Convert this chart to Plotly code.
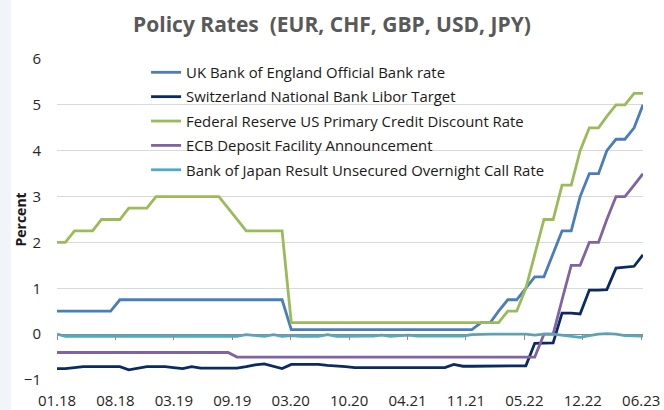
import pandas as pd
import plotly.graph_objects as go

# ---- data (monthly, month-end, Jan 2018 - Jun 2023) ----
start_month = "2018-01-31"
n_months = 66

uk_rate = [0.5]*7 + [0.75]*19 + [0.1]*21 + [0.25, 0.25, 0.5, 0.75, 0.75, 1.0, 1.25, 1.25, 1.75,
                                             2.25, 2.25, 3.0, 3.5, 3.5, 4.0, 4.25, 4.25, 4.5, 5.0]

swiss_rate = [-0.75, -0.75, -0.73, -0.71, -0.71, -0.71, -0.71, -0.71, -0.78, -0.74,
              -0.71, -0.71, -0.71, -0.73, -0.75, -0.71, -0.74, -0.74, -0.74, -0.74,
              -0.74, -0.71, -0.67, -0.65, -0.70, -0.75, -0.66, -0.66, -0.65, -0.66,
              -0.68, -0.69, -0.71, -0.73, -0.73, -0.73, -0.73, -0.73, -0.73, -0.73,
              -0.73, -0.73, -0.73, -0.73, -0.66, -0.70, -0.70, -0.70, -0.70, -0.70,
              -0.70, -0.70, -0.69, -0.20, -0.19, -0.19, 0.46, 0.46, 0.44, 0.96,
              0.96, 0.97, 1.44, 1.46, 1.48, 1.73]

fed_rate = [2.0, 2.0, 2.25, 2.25, 2.25, 2.5, 2.5, 2.5, 2.75, 2.75, 2.75, 3.0,
            3.0, 3.0, 3.0, 3.0, 3.0, 3.0, 3.0, 2.75, 2.5, 2.25, 2.25, 2.25, 2.25, 2.25,
            ] + [0.25]*24 + [0.5, 0.5, 1.0, 1.75, 2.5, 2.5, 3.25, 3.25, 4.0, 4.5,
                             4.5, 4.75, 5.0, 5.0, 5.25, 5.25]

ecb_rate = [-0.4]*20 + [-0.5]*34 + [0.0, 0.0, 0.75, 1.5, 1.5, 2.0, 2.0, 2.5, 3.0, 3.0, 3.25, 3.5]

japan_rate = [0.0, -0.05, -0.05, -0.05, -0.05, -0.05, -0.05, -0.05, -0.05, -0.05,
              -0.05, -0.05, -0.05, -0.05, -0.05, -0.05, -0.05, -0.05, -0.05, -0.05,
              -0.05, -0.01, -0.03, -0.05, -0.01, -0.05, -0.03, -0.05, -0.05, -0.05,
              -0.01, -0.05, -0.05, -0.04, -0.04, -0.04, -0.02, -0.05, -0.03, -0.02,
              -0.04, -0.04, -0.04, -0.04, -0.04, -0.04, -0.01, 0.0, 0.0, 0.0,
              0.0, 0.0, 0.0, -0.02, 0.0, 0.0, -0.02, -0.04, -0.07, -0.03,
              0.0, 0.01, 0.0, -0.03, -0.04, -0.04]

series_names = ["UK Bank of England Official Bank rate",
                "Switzerland National Bank Libor Target",
                "Federal Reserve US Primary Credit Discount Rate",
                "ECB Deposit Facility Announcement",
                "Bank of Japan Result Unsecured Overnight Call Rate"]
series_colors = ["#4A7EBB", "#0C2A62", "#9BBB59", "#8064A2", "#4BACC6"]

tick_labels = ["01.18", "08.18", "03.19", "09.19", "03.20", "10.20",
               "04.21", "11.21", "05.22", "12.22", "06.23"]
tick_step_days = 197
y_label = "Percent"
chart_title = "Policy Rates  (EUR, CHF, GBP, USD, JPY)"

# ---- build ----
t0 = pd.Timestamp(start_month)
dates = [t0 + pd.offsets.MonthEnd(i) for i in range(n_months)]
tickvals = [t0 + pd.Timedelta(days=tick_step_days * k) for k in range(len(tick_labels))]
xrange = [dates[0], dates[-1]]

FONT = "'Open Sans', sans-serif"
W, H = 664, 410
ML, MR, MT, MB = 57, 21, 59, 30
PW = W - ML - MR

fig = go.Figure()
for i, (name, vals, col) in enumerate(zip(series_names,
                                          [uk_rate, swiss_rate, fed_rate, ecb_rate, japan_rate],
                                          series_colors)):
    fig.add_trace(go.Scatter(x=dates, y=vals, mode="lines", name=name,
                             legendgroup="g%d" % i,
                             line=dict(color=col, width=2.8),
                             xaxis="x2" if i == 4 else "x"))

fig.update_layout(
    width=W, height=H,
    margin=dict(l=ML, r=MR, t=MT, b=MB, autoexpand=False),
    paper_bgcolor="white", plot_bgcolor="white",
    font=dict(family=FONT, size=14, color="#262626"),
    title=dict(text="<b>%s</b>" % chart_title,
               x=0.5, xanchor="center", y=0.94, yanchor="middle",
               font=dict(family=FONT, size=21, color="#595959")),
    showlegend=True,
    legend=dict(x=0.152, y=1.009, xanchor="left", yanchor="top",
                bgcolor="rgba(0,0,0,0)", traceorder="grouped",
                tracegroupgap=2, font=dict(family=FONT, size=14.9, color="#1a1a1a")),
    xaxis=dict(type="date", range=xrange, tickvals=tickvals, ticktext=tick_labels,
               showgrid=False, showline=False, zeroline=False, ticks="",
               automargin=False,
               tickfont=dict(family=FONT, size=15, color="#262626"),
               ticklabelstandoff=10),
    xaxis2=dict(type="date", range=xrange, overlaying="x", anchor="free",
                position=1/7, side="bottom", tickvals=tickvals, automargin=False,
                showticklabels=False, showgrid=False, zeroline=False,
                showline=True, linecolor="#8C8C8C", linewidth=1,
                ticks="outside", ticklen=5, tickcolor="#8C8C8C", tickwidth=1),
    yaxis=dict(range=[-1, 6], tickvals=[-1, 0, 1, 2, 3, 4, 5, 6],
               showgrid=True, gridcolor="#D9D9D9", gridwidth=1,
               zeroline=True, zerolinecolor="#8C8C8C", zerolinewidth=1,
               showline=False, ticks="", ticklabelstandoff=15, automargin=False,
               tickfont=dict(family=FONT, size=15, color="#262626")),
    annotations=[dict(text="<b>%s</b>" % y_label, textangle=-90,
                      xref="paper", yref="paper",
                      x=-(ML - 20) / PW, y=0.5, xanchor="center", yanchor="middle",
                      showarrow=False,
                      font=dict(family=FONT, size=14, color="#1a1a1a"))],
    shapes=[dict(type="rect", xref="paper", yref="paper",
                 x0=-ML / PW, x1=-(ML - 11) / PW, y0=-MB / (H - MT - MB),
                 y1=1 + MT / (H - MT - MB), fillcolor="#F1F5F9",
                 line=dict(width=0), layer="below")],
)

fig.write_html("out.html", post_script="document.body.style.margin='0';",
               config={"displayModeBar": False})
